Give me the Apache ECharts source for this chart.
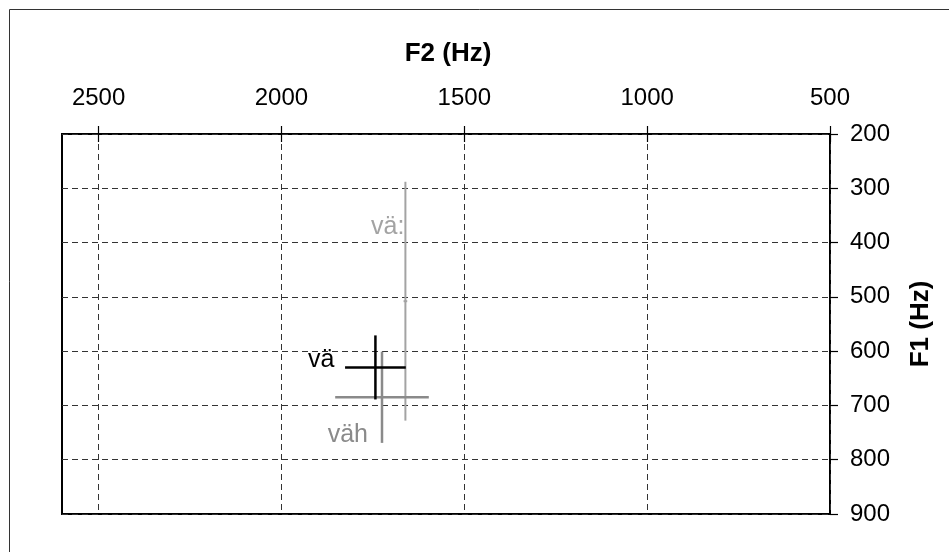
<!DOCTYPE html>
<html>
<head>
<meta charset="utf-8">
<script src="https://cdn.jsdelivr.net/npm/echarts@6/dist/echarts.min.js"></script>
<style>
html,body{margin:0;padding:0;background:#fff;}
#chart{width:949px;height:552px;}
</style>
</head>
<body>
<div id="chart"></div>
<script>
// ---- data ----
const vowels = ['vä:', 'väh', 'vä'];
const f2Mean = [1661, 1725, 1743];
const f2Sd   = [5, 128, 83];
const f1Mean = [508, 685, 630];
const f1Sd   = [220, 84, 59];
const f2Ticks = [500, 1000, 1500, 2000, 2500];
const f1Ticks = [200, 300, 400, 500, 600, 700, 800, 900];

// ---- styles ----
const colors = ['#a3a3a3', '#8a8a8a', '#000000'];
const widths = [2, 2.5, 2.5];
const labelOffsets = [[-1, -74], [-14, 38], [-41, -7]];
const FONT = '"Liberation Sans", Arial, sans-serif';

const chart = echarts.init(document.getElementById('chart'));
const data = vowels.map((v, i) => [f2Mean[i], f1Mean[i], i]);

chart.setOption({
  animation: false,
  backgroundColor: '#fff',
  grid: { left: 62, right: 119, top: 134, bottom: 38, show: true, borderColor: '#000', borderWidth: 2, backgroundColor: 'transparent' },
  xAxis: {
    type: 'value', position: 'top', inverse: true,
    min: 500, max: 2600, interval: 500, offset: -8,
    axisLine: { show: false },
    axisTick: { show: true, inside: false, length: 16, lineStyle: { color: '#000', width: 1.2 }, customValues: f2Ticks },
    axisLabel: { show: true, margin: 32, color: '#000', fontSize: 24, fontFamily: FONT, customValues: f2Ticks, formatter: v => String(v) },
    splitLine: { show: true, lineStyle: { color: '#333', width: 1, type: [6, 4] } }
  },
  yAxis: {
    type: 'value', position: 'right', inverse: true,
    min: 200, max: 900, interval: 100,
    axisLine: { show: false },
    axisTick: { show: true, inside: false, length: 8, lineStyle: { color: '#000', width: 1.2 } },
    axisLabel: { show: true, margin: 20, color: '#000', fontSize: 24, fontFamily: FONT, formatter: v => String(v) },
    splitLine: { show: true, lineStyle: { color: '#333', width: 1, type: [6, 4] } }
  },
  graphic: [
    { type: 'rect', shape: { x: 9.5, y: 9.5, width: 1000, height: 1000 }, style: { fill: 'none', stroke: '#333', lineWidth: 1 }, silent: true, z: -10 },
    { type: 'text', x: 448, y: 54, style: { text: 'F2 (Hz)', fontSize: 26, fontWeight: 'bold', fontFamily: FONT, fill: '#000', align: 'center', verticalAlign: 'middle' } },
    { type: 'text', x: 921, y: 324, rotation: Math.PI / 2, style: { text: 'F1 (Hz)', fontSize: 26, fontWeight: 'bold', fontFamily: FONT, fill: '#000', align: 'center', verticalAlign: 'middle' } }
  ],
  series: [{
    type: 'custom',
    coordinateSystem: 'cartesian2d',
    data: data,
    encode: { x: 0, y: 1 },
    clip: false,
    renderItem: function (params, api) {
      const i = params.dataIndex;
      const c = api.coord([f2Mean[i], f1Mean[i]]);
      const h1 = api.coord([f2Mean[i] - f2Sd[i], f1Mean[i]]);
      const h2 = api.coord([f2Mean[i] + f2Sd[i], f1Mean[i]]);
      const v1 = api.coord([f2Mean[i], f1Mean[i] - f1Sd[i]]);
      const v2 = api.coord([f2Mean[i], f1Mean[i] + f1Sd[i]]);
      const col = colors[i];
      return {
        type: 'group',
        children: [
          { type: 'line', shape: { x1: h1[0], y1: h1[1], x2: h2[0], y2: h2[1] }, style: { stroke: col, lineWidth: widths[i] } },
          { type: 'line', shape: { x1: v1[0], y1: v1[1], x2: v2[0], y2: v2[1] }, style: { stroke: col, lineWidth: widths[i] } },
          { type: 'text', x: c[0] + labelOffsets[i][0], y: c[1] + labelOffsets[i][1],
            style: { text: vowels[i], fill: col, fontSize: 25, fontFamily: FONT, align: 'right', verticalAlign: 'middle' } }
        ]
      };
    }
  }]
});
</script>
</body>
</html>
